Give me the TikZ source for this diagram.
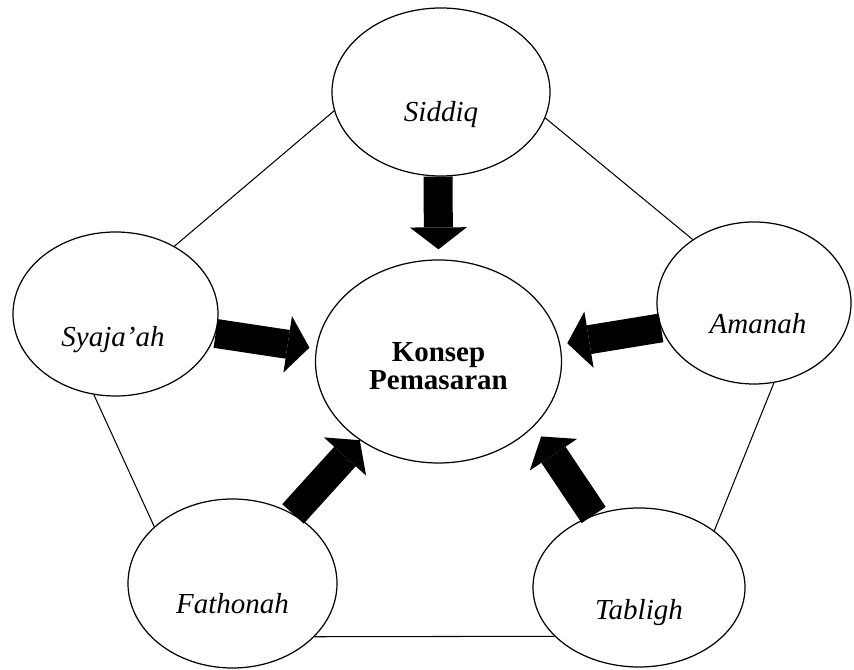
\documentclass[tikz,border=0pt]{standalone}
\usepackage{fontspec}
\setmainfont{Liberation Serif}
\usetikzlibrary{shapes.geometric,arrows.meta}

\begin{document}
\begin{tikzpicture}[
    pillar/.style={ellipse, draw, line width=0.7pt, inner sep=0pt},
    word/.style={font=\fontsize{16.5}{16.5}\selectfont\itshape},
    link/.style={line width=0.6pt},
    bigarrow/.style={line width=0.58cm, -{Triangle[length=0.44cm, width=1.14cm, line width=0pt]}}
]
    \useasboundingbox (0,0) rectangle (17.08,13.4);

    % Draw the central node
    \node[pillar, minimum width=4.92cm, minimum height=4.06cm] (konsep) at (8.77, 6.17) {};
    \node[font=\fontsize{16.5}{16}\selectfont\bfseries, align=center] (konseptext) at ([yshift=-0.1cm]konsep.center) {Konsep\\Pemasaran};

    % Draw nodes for the five pillars
    \node[pillar, minimum width=4.36cm, minimum height=3.36cm] (siddiq) at (8.82, 11.56) {};
    \node[pillar, minimum width=4.10cm, minimum height=3.28cm] (syajaah) at (2.31, 7.12) {};
    \node[pillar, minimum width=3.88cm, minimum height=3.24cm] (amanah) at (15.08, 7.34) {};
    \node[pillar, minimum width=4.18cm, minimum height=3.38cm] (fathonah) at (4.65, 1.73) {};
    \node[pillar, minimum width=4.24cm, minimum height=3.18cm] (tabligh) at (12.78, 1.65) {};

    % Labels of the pillars
    \node[word] (siddiqtext) at ([yshift=-0.46cm]siddiq.center) {Siddiq};
    \node[word] (syajaahtext) at ([xshift=-0.05cm, yshift=-0.52cm]syajaah.center) {Syaja’ah};
    \node[word] (amanahtext) at ([xshift=0.08cm, yshift=-0.42cm]amanah.center) {Amanah};
    \node[word] (fathonahtext) at ([yshift=-0.41cm]fathonah.center) {Fathonah};
    \node[word] (tablightext) at ([yshift=-0.5cm]tabligh.center) {Tabligh};

    % Draw the lines between the pillars
    \draw[link] (siddiq.190) -- (syajaah.49);
    \draw[link] (siddiq.346) -- (amanah.134);
    \draw[link] (syajaah.255) -- (fathonah.144);
    \draw[link] (amanah.284) -- (tabligh.37);
    \draw[link] (fathonah.327) -- (tabligh.210);

    % Draw the block arrows into the centre
    \draw[bigarrow, shorten >=0.2cm] (siddiq.268) -- (konsep.north);
    \draw[bigarrow, shorten >=0.13cm] (syajaah.349) -- (konsep.174);
    \draw[bigarrow, shorten >=0.14cm] (amanah.195) -- (konsep.8);
    \draw[bigarrow] (fathonah.49) -- (konsep.225);
    \draw[bigarrow, shorten >=0.25cm] (tabligh.122) -- (konsep.326);
\end{tikzpicture}
\end{document}
